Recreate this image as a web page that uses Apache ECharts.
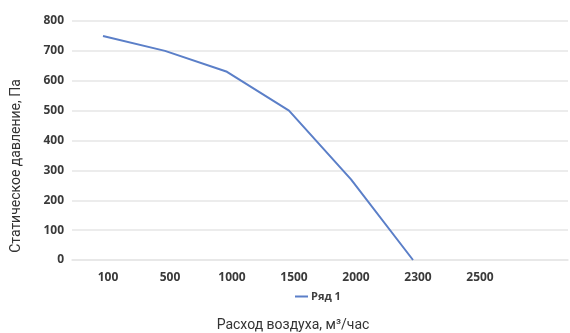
<!DOCTYPE html>
<html>
<head>
<meta charset="utf-8">
<script src="https://cdn.jsdelivr.net/npm/echarts@6/dist/echarts.min.js"></script>
<style>html,body{margin:0;padding:0;background:#fff}#c{width:570px;height:333px}</style>
</head>
<body>
<div id="c"></div>
<script>
var categories = ['100', '500', '1000', '1500', '2000', '2300', '2500', ''];
var pressure = [750, 700, 630, 500, 270, 0, null, null];
var seriesName = 'Ряд 1';
var xTitle = 'Расход воздуха, м³/час';
var yTitle = 'Статическое давление, Па';

var chart = echarts.init(document.getElementById('c'));
chart.setOption({
  animation: false,
  grid: {left: 72, right: 2, top: 21, bottom: 73},
  legend: {
    data: [seriesName], top: 286, left: 290,
    itemWidth: 13, itemHeight: 2, itemGap: 4,
    icon: 'rect',
    textStyle: {fontFamily: 'Open Sans', fontWeight: 'bold', fontSize: 11, color: '#404040', padding: [0,0,0,-2]}
  },
  graphic: [
    {type: 'text', x: 293, y: 318, style: {text: xTitle, font: '14px Roboto', fill: '#333', textAlign: 'center', textVerticalAlign: 'top'}},
    {type: 'text', x: 9, y: 166, rotation: Math.PI / 2, style: {text: yTitle, font: '14px Roboto', fill: '#333', textAlign: 'center', textVerticalAlign: 'top'}}
  ],
  xAxis: {
    type: 'category', data: categories, boundaryGap: true,
    axisLine: {show: true, lineStyle: {color: '#e6e6e6', width: 1.5}},
    axisTick: {show: false},
    axisLabel: {fontFamily: 'Open Sans', fontWeight: 'bold', fontSize: 12, color: '#3a3a3a', margin: 12, padding: [0, 0, 0, 10]}
  },
  yAxis: {
    type: 'value', min: 0, max: 800, interval: 100,
    axisLine: {show: false}, axisTick: {show: false},
    splitLine: {lineStyle: {color: '#e6e6e6', width: 1.5}},
    axisLabel: {fontFamily: 'Open Sans', fontWeight: 'bold', fontSize: 12, color: '#3a3a3a', margin: 8}
  },
  series: [{
    name: seriesName, type: 'line', data: pressure,
    showSymbol: false, symbol: 'none', connectNulls: false,
    lineStyle: {color: '#5b7fc8', width: 2},
    itemStyle: {color: '#5b7fc8'}
  }]
});
</script>
</body>
</html>
